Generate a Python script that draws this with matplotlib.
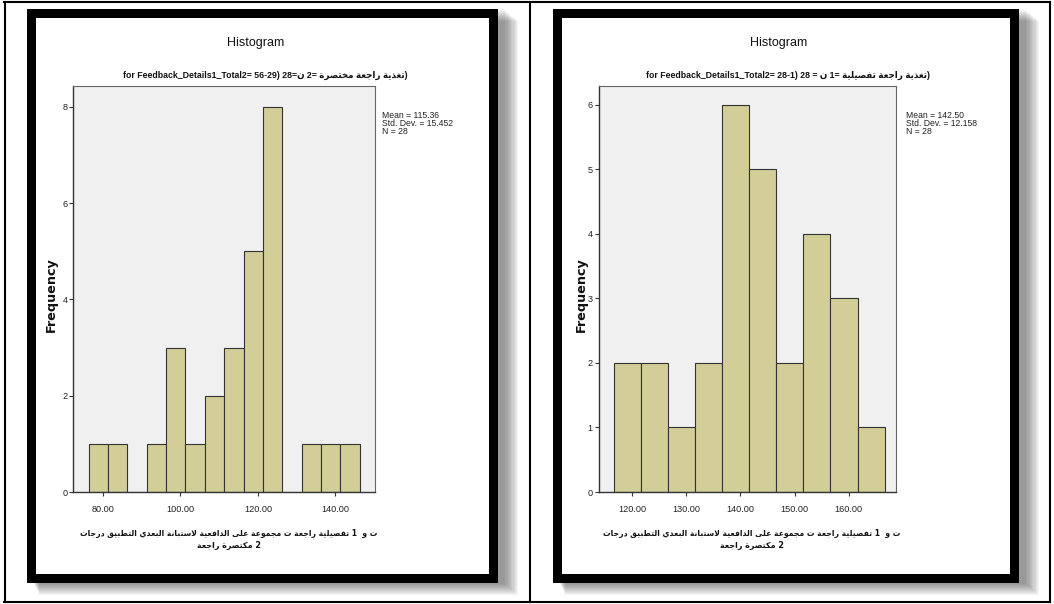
"""Two SPSS-style histograms (post-test motivation scores) side by side."""
import matplotlib

matplotlib.use("Agg")

import matplotlib.pyplot as plt  # noqa: E402
from matplotlib.patches import Rectangle  # noqa: E402
from matplotlib.ticker import FormatStrFormatter  # noqa: E402

W, H = 1054, 604

# ---- data ----------------------------------------------------------------
bin_width = 5.0

left_first_edge = 76.3
left_counts = [1, 1, 0, 1, 3, 1, 2, 3, 5, 8, 0, 1, 1, 1]
left_xticks = [80, 100, 120, 140]
left_yticks = [0, 2, 4, 6, 8]
left_stats = ["Mean = 115.36", "Std. Dev. = 15.452", "N = 28"]

right_first_edge = 116.6
right_counts = [2, 2, 1, 2, 6, 5, 2, 4, 3, 1]
right_xticks = [120, 130, 140, 150, 160]
right_yticks = [0, 1, 2, 3, 4, 5, 6]
right_stats = ["Mean = 142.50", "Std. Dev. = 12.158", "N = 28"]

xlabel_words_1 = ["درجات", "التطبيق", "البعدي", "لاستبانة", "الدافعية", "على",
                  "مجموعة", "ت", "راجعة", "تفصيلية", " 1", "و", "ت"]
xlabel_words_2 = ["راجعة", "مكتصرة", "2"]

NARROW = ["Liberation Sans Narrow", "Liberation Sans", "DejaVu Sans"]
BAR_COLOR = "#d3ce97"
PLOT_BG = "#f0f0f0"

# ---- minimal Arabic shaping (matplotlib has no bidi / joining) ------------
FORMS = {
    "ا": (0xFE8D, False), "ب": (0xFE8F, True), "ة": (0xFE93, False),
    "ت": (0xFE95, True), "ج": (0xFE9D, True), "خ": (0xFEA5, True),
    "د": (0xFEA9, False), "ذ": (0xFEAB, False), "ر": (0xFEAD, False),
    "س": (0xFEB1, True), "ص": (0xFEB9, True), "ط": (0xFEC1, True),
    "ع": (0xFEC9, True), "غ": (0xFECD, True), "ف": (0xFED1, True),
    "ق": (0xFED5, True), "ك": (0xFED9, True), "ل": (0xFEDD, True),
    "م": (0xFEE1, True), "ن": (0xFEE5, True), "و": (0xFEED, False),
    "ى": (0xFEEF, False), "ي": (0xFEF1, True), "\x01": (0xFEFB, False),
}


def shape(word):
    w = word.replace("لا", "\x01")
    out = []
    for i, ch in enumerate(w):
        if ch not in FORMS:
            out.append(ch)
            continue
        base, dual = FORMS[ch]
        prev = w[i - 1] if i > 0 else None
        nxt = w[i + 1] if i + 1 < len(w) else None
        jp = prev in FORMS and FORMS[prev][1]
        jn = dual and nxt in FORMS
        off = 3 if (jp and jn) else 1 if jp else 2 if jn else 0
        out.append(chr(base + off))
    return "".join(reversed(out))


def rtl(phrase):
    return " ".join(shape(w) for w in reversed(phrase.split()))


left_sub = ("for Feedback_Details1_Total2= 56-29) 28=" + shape("ن") + " 2= "
            + rtl("تغذية راجعة مختصرة") + ")")
right_sub = ("for Feedback_Details1_Total2= 28-1) 28 = " + shape("ن") + " 1= "
             + rtl("تغذية راجعة تفصيلية") + ")")
xlabel_1 = " ".join(shape(w) for w in xlabel_words_1)
xlabel_2 = " ".join(shape(w) for w in xlabel_words_2)


def fx(x):
    return x / W


def fy(y):
    return 1 - y / H


def frame(fig, x0, y0, x1, y1, lw=9):
    # soft drop shadow to the right and below
    for k in range(12, 0, -1):
        fig.add_artist(Rectangle((fx(x0 + 6 + k * 0.5), fy(y1 + k)),
                                 fx(x1 - x0 + k * 0.7), (y1 - y0) / H,
                                 transform=fig.transFigure, facecolor="black",
                                 edgecolor="none", alpha=0.04, zorder=0))
    fig.add_artist(Rectangle((fx(x0), fy(y1)), fx(x1 - x0), (y1 - y0) / H,
                             transform=fig.transFigure, facecolor="black",
                             edgecolor="none", zorder=1))
    fig.add_artist(Rectangle((fx(x0 + lw), fy(y1 - lw)), fx(x1 - x0 - 2 * lw),
                             (y1 - y0 - 2 * lw) / H, transform=fig.transFigure,
                             facecolor="white", edgecolor="none", zorder=1))


def histogram(fig, box, first_edge, counts, xticks, yticks, xlim, ylim,
              stats, sub, cx, stats_x, ylab_x, xlab_cx):
    x0, y0, x1, y1 = box
    ax = fig.add_axes([fx(x0), fy(y1), fx(x1 - x0), (y1 - y0) / H], zorder=3)
    ax.set_facecolor(PLOT_BG)
    lefts = [first_edge + i * bin_width for i in range(len(counts))]
    ax.bar(lefts, counts, width=bin_width, align="edge", color=BAR_COLOR,
           edgecolor="#333333", linewidth=0.8)
    ax.set_xlim(*xlim)
    ax.set_ylim(*ylim)
    ax.set_xticks(xticks)
    ax.set_yticks(yticks)
    ax.xaxis.set_major_formatter(FormatStrFormatter("%.2f"))
    ax.tick_params(length=3, width=0.8, color="#333333", pad=6.3,
                   labelsize=6.6, labelcolor="#222222")
    for lab in ax.get_xticklabels() + ax.get_yticklabels():
        lab.set_family(NARROW)
    ax.tick_params(axis="y", pad=1)
    for side in ("top", "right"):
        ax.spines[side].set_color("#666666")
        ax.spines[side].set_linewidth(0.8)
    for side in ("left", "bottom"):
        ax.spines[side].set_color("#333333")
        ax.spines[side].set_linewidth(1.0)

    fig.text(fx(cx), fy(43), "Histogram", ha="center", va="center",
             family=NARROW, fontsize=9, color="#111111")
    fig.text(fx(cx + 9), fy(75), sub, ha="center", va="center",
             family=NARROW, fontsize=6.3, fontweight="bold", color="#111111")
    for i, s in enumerate(stats):
        fig.text(fx(stats_x), fy(116 + i * 7.8), s, ha="left", va="center",
                 family=NARROW, fontsize=6.2, color="#222222")
    fig.text(fx(ylab_x), fy(295), "Frequency", ha="center", va="center",
             rotation=90, family="DejaVu Sans", fontsize=9.2,
             fontweight="bold", color="#111111")
    fig.text(fx(xlab_cx), fy(533), xlabel_1, ha="center", va="center",
             family="DejaVu Sans", fontsize=5.5, fontweight="bold",
             color="#111111")
    fig.text(fx(xlab_cx), fy(546), xlabel_2, ha="center", va="center",
             family="DejaVu Sans", fontsize=5.8, fontweight="bold",
             color="#111111")
    return ax


fig = plt.figure(figsize=(W / 100, H / 100), dpi=100)
fig.patch.set_facecolor("white")

# table borders around the two cells
for (xa, ya, xb, yb) in [(4, 1.5, 1050, 1.5), (4, 602, 1050, 602),
                         (4.5, 1.5, 4.5, 602), (1050, 1.5, 1050, 602),
                         (530, 1.5, 530, 602)]:
    fig.add_artist(plt.Line2D([fx(xa), fx(xb)], [fy(ya), fy(yb)],
                              transform=fig.transFigure, color="black",
                              linewidth=1.5, zorder=2))

frame(fig, 27, 9, 498, 583)
frame(fig, 553, 9, 1019, 583)

histogram(fig, (73, 86, 375, 492), left_first_edge, left_counts, left_xticks,
          left_yticks, (72.3, 150.2), (0, 8.43), left_stats, left_sub,
          256, 382, 51, 229)
histogram(fig, (598.5, 86, 896, 492), right_first_edge, right_counts,
          right_xticks, right_yticks, (113.8, 168.7), (0, 6.29), right_stats,
          right_sub, 779, 906, 581, 752)

fig.savefig("out.png", dpi=100, facecolor="white")
plt.close(fig)
